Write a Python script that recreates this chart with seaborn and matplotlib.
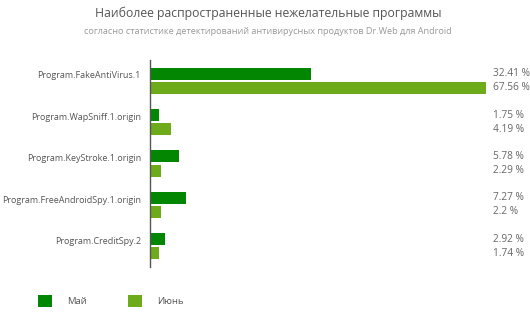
import matplotlib
matplotlib.use("Agg")
import matplotlib.pyplot as plt
import seaborn as sns
import pandas as pd
import numpy as np

title = "Наиболее распространенные нежелательные программы"
subtitle = "согласно статистике детектирований антивирусных продуктов Dr.Web для Android"
programs = ["Program.FakeAntiVirus.1", "Program.WapSniff.1.origin", "Program.KeyStroke.1.origin",
            "Program.FreeAndroidSpy.1.origin", "Program.CreditSpy.2"]
may = [32.41, 1.75, 5.78, 7.27, 2.92]
june = [67.56, 4.19, 2.29, 2.2, 1.74]
series = ["Май", "Июнь"]
colors = ["#038703", "#6dab1a"]

df = pd.DataFrame({
    "program": programs * 2,
    "month": [series[0]] * len(programs) + [series[1]] * len(programs),
    "value": may + june,
})

sns.set_theme(style="white")
plt.rcParams['font.family'] = ['Open Sans', 'DejaVu Sans']

fig = plt.figure(figsize=(5.3, 3.16), dpi=100)
ax = fig.add_axes([150 / 530, 49 / 316, 370 / 530, 207 / 316])
sns.barplot(data=df, y="program", x="value", hue="month", palette=colors, orient="h",
            width=0.68, gap=0.15, ax=ax, linewidth=0, errorbar=None, saturation=1)

ax.set_xlim(0, 370 / 4.97)
ax.set_ylim(len(programs) - 0.5, -0.5)
ax.set_xticks([])
ax.set_xlabel("")
ax.set_ylabel("")
for s in ["top", "right", "bottom"]:
    ax.spines[s].set_visible(False)
ax.spines["left"].set_color("#555555")
ax.spines["left"].set_linewidth(1)

ax.set_yticks(np.arange(len(programs)) - 0.14)
ax.set_yticklabels(programs, fontsize=6.5, color="#555555")
ax.set_yticks(np.arange(-0.5, len(programs), 1), minor=True)
ax.tick_params(axis="y", which="major", length=0, pad=6.5)
ax.tick_params(axis="y", which="minor", length=4, width=1, color="#555555", direction="out")

for cont in ax.containers:
    for bar, v in zip(cont, cont.datavalues):
        yc = bar.get_y() + bar.get_height() / 2
        ax.text(69.0, yc, f"{v:g} %", ha="left", va="center", fontsize=7.3, color="#666666")

handles, labels = ax.get_legend_handles_labels()
if ax.get_legend() is not None:
    ax.get_legend().remove()
fig.legend(handles, labels, loc="upper left", bbox_to_anchor=(38 / 530, 1 - 295 / 316),
           bbox_transform=fig.transFigure, ncol=2, handlelength=1.5, handleheight=1.5,
           handletextpad=1.6, columnspacing=4.3, fontsize=6.8, frameon=False,
           borderpad=0, borderaxespad=0, labelcolor="#555555")

fig.text(268 / 530, 1 - 13 / 316, title, ha="center", va="center", fontsize=8.8, color="#555555")
fig.text(268 / 530, 1 - 31 / 316, subtitle, ha="center", va="center", fontsize=6.6, color="#999999")

fig.savefig("out.png", dpi=100)
